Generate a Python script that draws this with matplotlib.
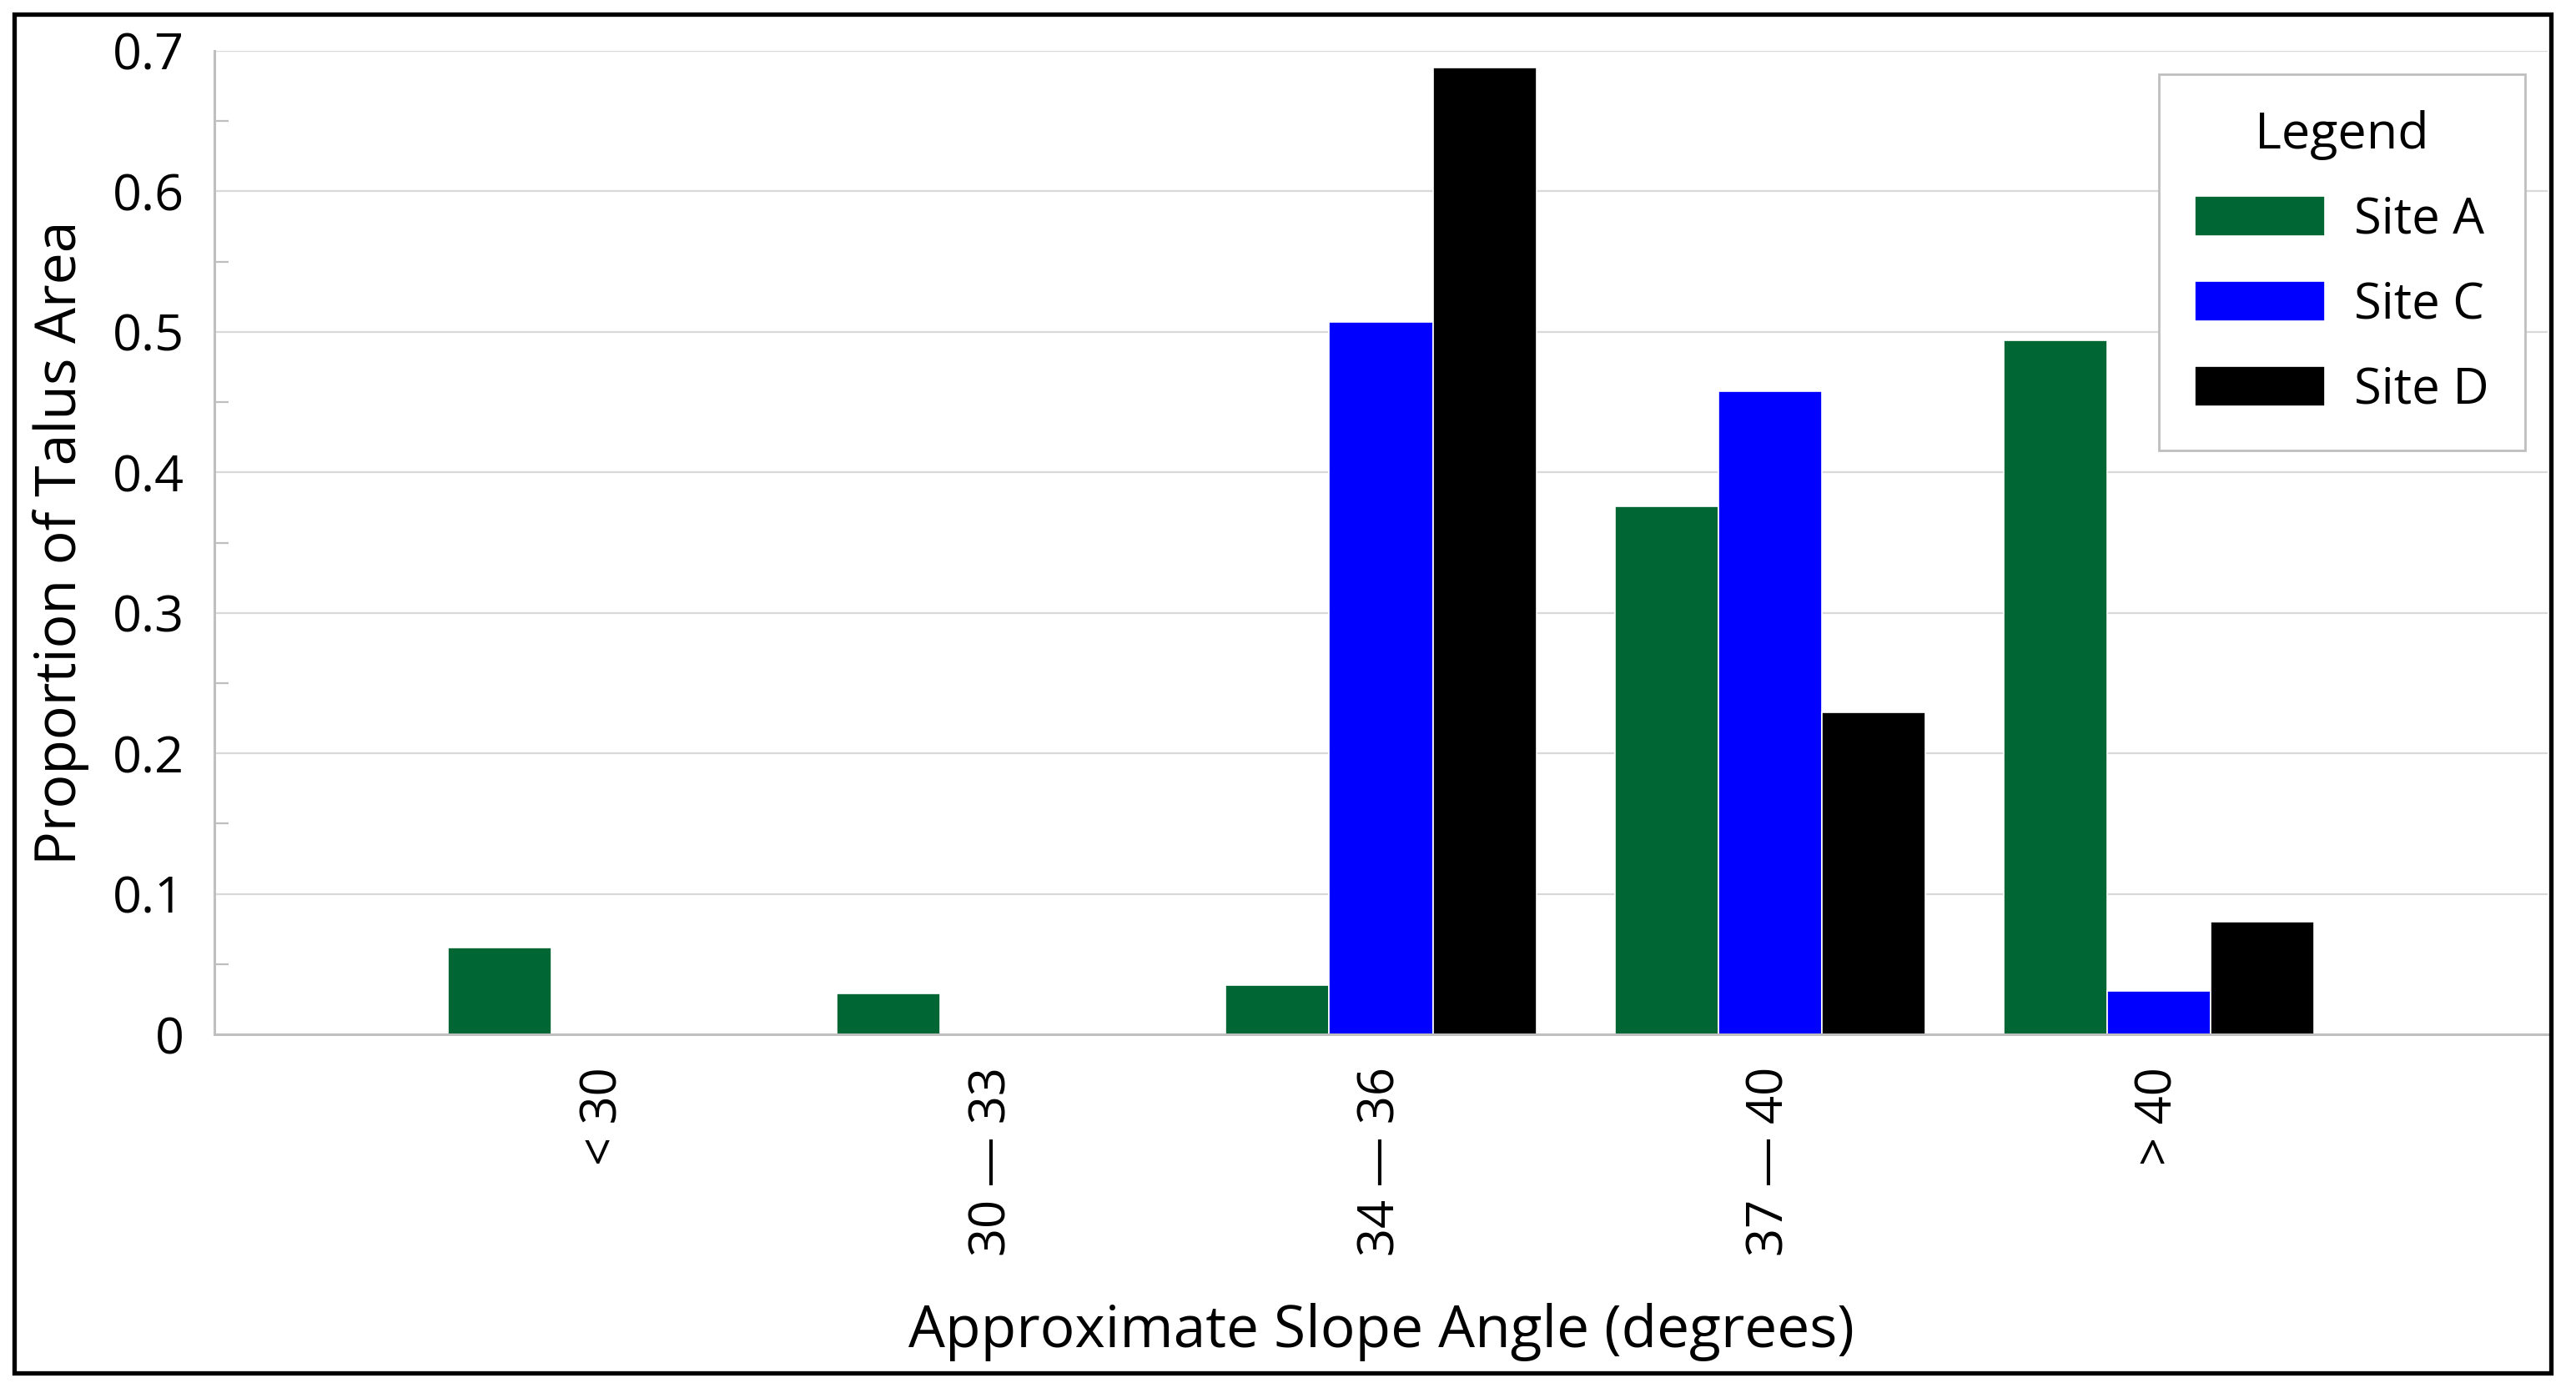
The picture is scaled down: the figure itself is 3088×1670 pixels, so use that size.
import matplotlib
matplotlib.use("Agg")
import matplotlib.pyplot as plt
from matplotlib.patches import Rectangle
import numpy as np

CATEGORIES = ["< 30", "30 \u2014 33", "34 \u2014 36", "37 \u2014 40", "> 40"]
SERIES = ["Site A", "Site C", "Site D"]
SITE_A = [0.062, 0.029, 0.035, 0.376, 0.494]
SITE_C = [0.0, 0.0, 0.507, 0.458, 0.031]
SITE_D = [0.0, 0.0, 0.688, 0.229, 0.080]
COLORS = ["#006633", "#0000ff", "#000000"]

W, H = 3088, 1670
DPI = 100

plt.rcParams.update({
    "font.family": ["Open Sans", "DejaVu Sans"],
    "font.size": 44,
})

fig = plt.figure(figsize=(W / DPI, H / DPI), dpi=DPI)
fig.patch.set_facecolor("white")

# axes box in pixel coordinates of the reference
ax_left, ax_right, ax_top, ax_bottom = 257, 3054, 61, 1240
ax = fig.add_axes([ax_left / W, 1 - ax_bottom / H,
                   (ax_right - ax_left) / W, (ax_bottom - ax_top) / H])

x = np.arange(len(CATEGORIES))
width = 0.266
for i, (name, vals, color) in enumerate(zip(SERIES, [SITE_A, SITE_C, SITE_D], COLORS)):
    ax.bar(x + (i - 1) * width, vals, width, color=color, edgecolor="white",
           linewidth=1.2, label=name, zorder=2)

ax.set_xlim(-1, 5)
ax.set_ylim(0, 0.7)
ax.set_yticks(np.arange(0, 0.71, 0.1))
ax.set_yticklabels(["0", "0.1", "0.2", "0.3", "0.4", "0.5", "0.6", "0.7"])
ax.set_yticks(np.arange(0.05, 0.7, 0.1), minor=True)
ax.set_xticks(x)
ax.set_xticklabels(CATEGORIES, rotation=90, va="top", ha="center", fontsize=43)

ax.tick_params(axis="y", which="major", length=0, pad=26)
ax.tick_params(axis="y", which="minor", direction="in", length=12, width=1.6,
               color="#bfbfbf")
ax.tick_params(axis="x", length=0, pad=28)

ax.grid(axis="y", color="#d9d9d9", linewidth=1.6, zorder=0)
ax.set_axisbelow(True)
for side in ("top", "right"):
    ax.spines[side].set_visible(False)
for side in ("left", "bottom"):
    ax.spines[side].set_color("#bfbfbf")
    ax.spines[side].set_linewidth(2.2)

ax.set_xlabel("Approximate Slope Angle (degrees)", fontsize=50, va="center")
ax.xaxis.set_label_coords(0.5, -(1597 - ax_bottom) / (ax_bottom - ax_top))
ax.set_ylabel("Proportion of Talus Area", fontsize=49, va="center")
ax.yaxis.set_label_coords((73 - ax_left) / (ax_right - ax_left), 0.5)

leg = ax.legend(title="Legend", loc="upper right",
                bbox_to_anchor=(3027 / W, 1 - 89 / H), bbox_transform=fig.transFigure,
                borderaxespad=0, fontsize=43, title_fontsize=44,
                handlelength=2.6, handleheight=0.85, handletextpad=0.6,
                labelspacing=0.7, borderpad=0.72, fancybox=False, framealpha=1)
leg.get_frame().set_edgecolor("#bfbfbf")
leg.get_frame().set_linewidth(2)

# outer black frame around the whole chart
fig.patches.append(Rectangle((17 / W, 1 - 1646 / H), (3058 - 17) / W, (1646 - 17) / H,
                             transform=fig.transFigure, fill=False,
                             edgecolor="black", linewidth=3.8, zorder=10))

fig.savefig("out.png", dpi=DPI, facecolor="white")
